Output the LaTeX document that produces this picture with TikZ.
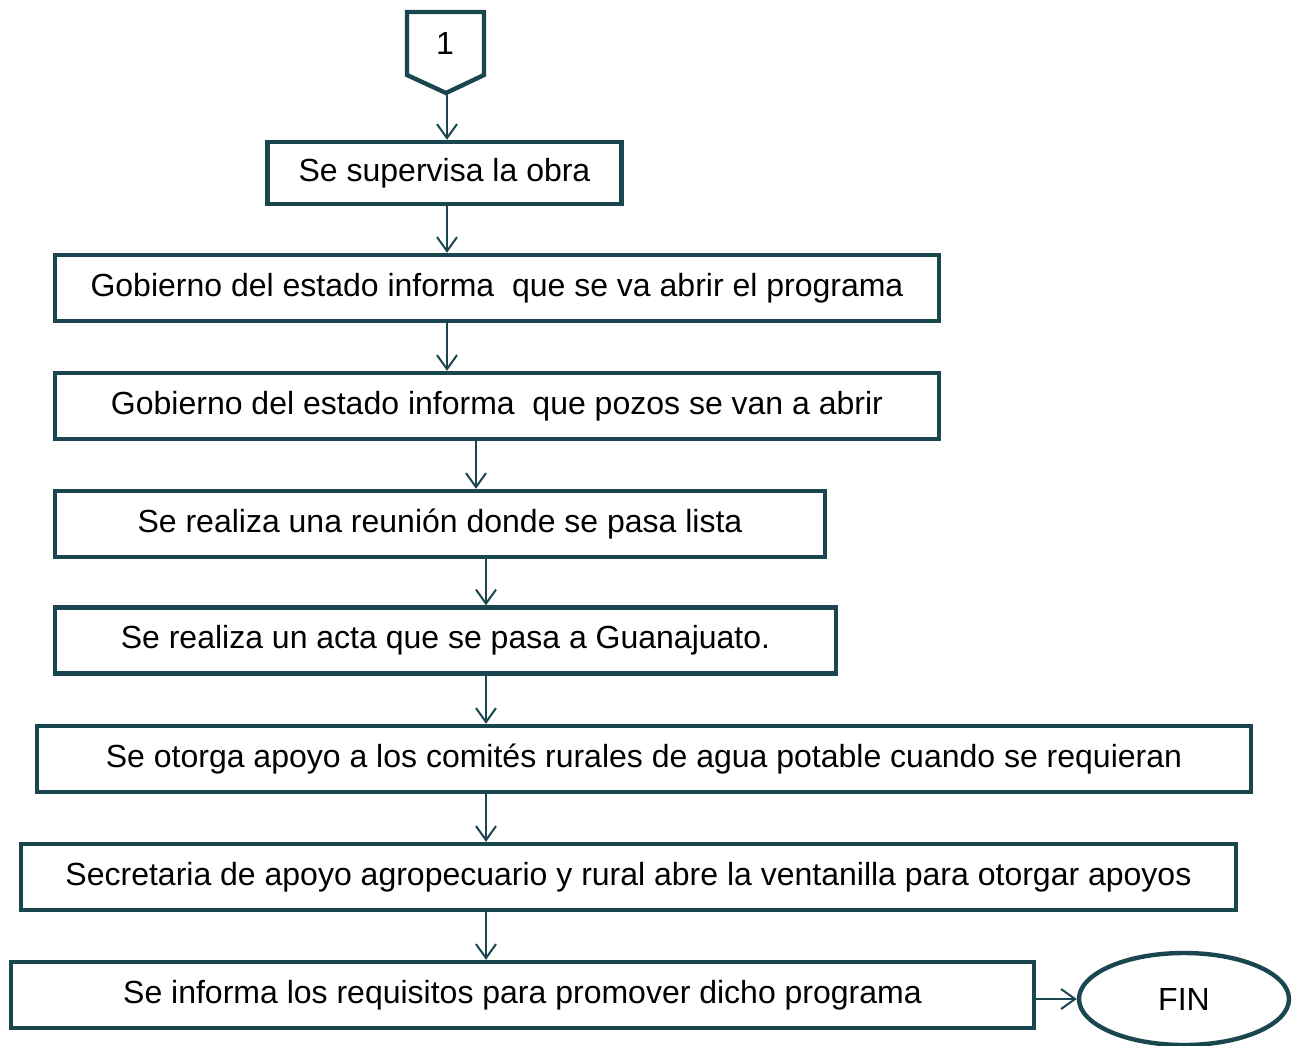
\documentclass[tikz,border=0pt]{standalone}
\usepackage{fontspec}
\setmainfont{Liberation Sans}
\usepackage{tikz}
\usetikzlibrary{arrows.meta,shapes.geometric}
\definecolor{boxline}{RGB}{26,70,80}

\begin{document}
\begin{tikzpicture}[x=0.5pt,y=-0.5pt,
    stepbox/.style={draw=boxline,line width=2.2pt,inner sep=0pt,minimum height=33pt,
      font=\fontsize{16}{19}\selectfont},
    flow/.style={draw=boxline,line width=1pt,-{Straight Barb[length=7pt,width=10pt,line width=1pt]}}]
          \useasboundingbox (0,0) rectangle (1296,1045);
          % off-page connector
          \filldraw[fill=white,draw=boxline,line width=2.2pt,line join=miter]
            (407,12) -- (484,12) -- (484,75) -- (446,93) -- (407,75) -- cycle;
          \node[font=\fontsize{16}{19}\selectfont] (c1) at (445,43) {1};
          \coordinate (c1tip) at (447,93);
          % steps
          \node[stepbox,minimum width=177pt,minimum height=31pt] (b1) at (444.5,173) {Se supervisa la obra};
          \node[stepbox,minimum width=442pt] (b2) at (497,288) {Gobierno del estado informa \ que se va abrir el programa};
          \node[stepbox,minimum width=442pt] (b3) at (497,406) {Gobierno del estado informa \ que pozos se van a abrir};
          \node[stepbox,minimum width=385pt] (b4) at (440,524) {Se realiza una reunión donde se pasa lista};
          \node[stepbox,minimum width=390.5pt] (b5) at (445.5,640.5) {Se realiza un acta que se pasa a Guanajuato.};
          \node[stepbox,minimum width=607pt] (b6) at (644,759) {Se otorga apoyo a los comités rurales de agua potable cuando se requieran};
          \node[stepbox,minimum width=607.5pt] (b7) at (628.5,877) {Secretaria de apoyo agropecuario y rural abre la ventanilla para otorgar apoyos};
          \node[stepbox,minimum width=511.5pt] (b8) at (522.5,995) {Se informa los requisitos para promover dicho programa};
          \node[ellipse,draw=boxline,line width=2.2pt,minimum width=105pt,minimum height=46pt,inner sep=0pt,
            font=\fontsize{16}{19}\selectfont] (fin) at (1184,999) {FIN};
          % arrows
          \coordinate (xa) at (447,0);
          \coordinate (xb) at (476,0);
          \coordinate (xc) at (486,0);
          \draw[flow] (c1tip) -- (b1.north -| xa);
          \draw[flow] (b1.south -| xa) -- (b2.north -| xa);
          \draw[flow] (b2.south -| xa) -- (b3.north -| xa);
          \draw[flow] (b3.south -| xb) -- (b4.north -| xb);
          \draw[flow] (b4.south -| xc) -- (b5.north -| xc);
          \draw[flow] (b5.south -| xc) -- (b6.north -| xc);
          \draw[flow] (b6.south -| xc) -- (b7.north -| xc);
          \draw[flow] (b7.south -| xc) -- (b8.north -| xc);
          \draw[flow] (b8.east |- fin.west) -- (fin.west);
\end{tikzpicture}
\end{document}
